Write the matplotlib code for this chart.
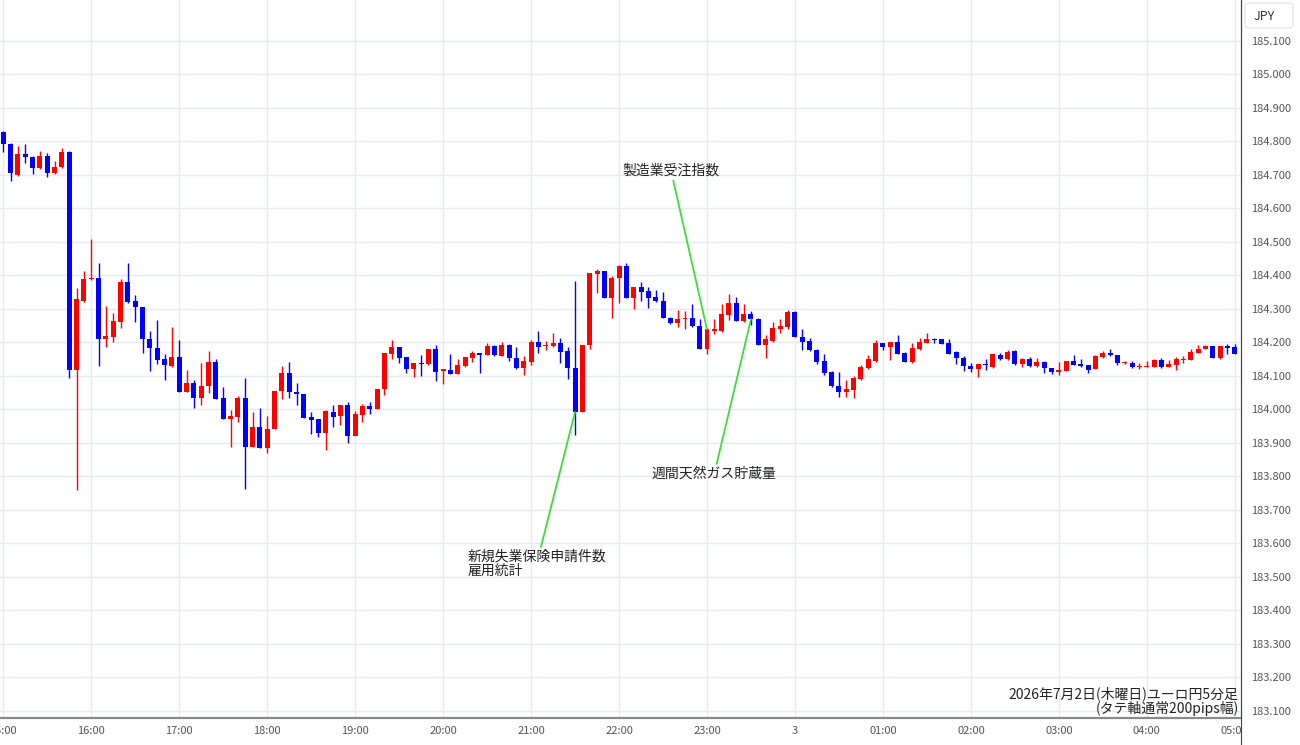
import numpy as np
import matplotlib
matplotlib.use('Agg')
import matplotlib.pyplot as plt
from matplotlib.patches import FancyBboxPatch, Rectangle
from matplotlib.lines import Line2D

plt.rcParams['font.family'] = ['Noto Sans CJK JP', 'DejaVu Sans']

# ユーロ円 5分足 (15:00 - 翌05:00)
opens = [184.827, 184.792, 184.700, 184.763, 184.753, 184.720, 184.757, 184.705, 184.725, 184.768,
         184.118, 184.325, 184.388, 184.391, 184.209, 184.217, 184.262, 184.379, 184.324, 184.307,
         184.209, 184.184, 184.150, 184.131, 184.156, 184.053, 184.078, 184.033, 184.071, 184.141,
         184.033, 183.971, 183.978, 184.033, 183.887, 183.947, 183.884, 183.942, 184.055, 184.108,
         184.053, 184.046, 183.976, 183.971, 183.929, 183.991, 183.979, 184.013, 183.921, 183.984,
         184.011, 184.001, 184.060, 184.165, 184.186, 184.155, 184.120, 184.140, 184.136, 184.180,
         184.116, 184.118, 184.106, 184.130, 184.153, 184.168, 184.163, 184.190, 184.160, 184.193,
         184.153, 184.123, 184.143, 184.200, 184.188, 184.190, 184.198, 184.173, 184.123, 183.992,
         184.191, 184.405, 184.412, 184.332, 184.392, 184.429, 184.332, 184.364, 184.352, 184.335,
         184.325, 184.274, 184.259, 184.269, 184.274, 184.249, 184.181, 184.235, 184.235, 184.282,
         184.317, 184.265, 184.284, 184.270, 184.193, 184.205, 184.239, 184.247, 184.290, 184.215,
         184.204, 184.178, 184.145, 184.111, 184.071, 184.053, 184.058, 184.090, 184.123, 184.146,
         184.197, 184.187, 184.202, 184.168, 184.141, 184.181, 184.199, 184.209, 184.209, 184.197,
         184.170, 184.153, 184.130, 184.121, 184.135, 184.128, 184.163, 184.150, 184.173, 184.135,
         184.150, 184.130, 184.141, 184.125, 184.113, 184.116, 184.145, 184.136, 184.133, 184.121,
         184.156, 184.168, 184.163, 184.138, 184.140, 184.128, 184.128, 184.128, 184.148, 184.128,
         184.133, 184.148, 184.148, 184.168, 184.180, 184.188, 184.153, 184.188, 184.185]
highs = [184.830, 184.795, 184.786, 184.792, 184.755, 184.772, 184.765, 184.742, 184.780, 184.772,
         184.362, 184.414, 184.508, 184.436, 184.309, 184.287, 184.389, 184.436, 184.342, 184.307,
         184.234, 184.267, 184.164, 184.247, 184.207, 184.118, 184.088, 184.138, 184.174, 184.150,
         184.068, 183.998, 184.040, 184.093, 183.993, 184.003, 183.979, 184.055, 184.130, 184.143,
         184.078, 184.046, 183.993, 183.971, 183.999, 184.013, 184.013, 184.021, 183.996, 184.016,
         184.023, 184.060, 184.168, 184.208, 184.186, 184.155, 184.140, 184.163, 184.180, 184.193,
         184.120, 184.166, 184.150, 184.155, 184.175, 184.168, 184.198, 184.193, 184.200, 184.196,
         184.186, 184.160, 184.208, 184.234, 184.205, 184.228, 184.213, 184.186, 184.382, 184.193,
         184.407, 184.419, 184.412, 184.397, 184.431, 184.436, 184.364, 184.379, 184.365, 184.357,
         184.349, 184.277, 184.297, 184.295, 184.314, 184.269, 184.242, 184.269, 184.314, 184.344,
         184.337, 184.314, 184.295, 184.272, 184.222, 184.262, 184.269, 184.297, 184.294, 184.239,
         184.212, 184.180, 184.165, 184.115, 184.113, 184.088, 184.100, 184.133, 184.163, 184.207,
         184.197, 184.202, 184.222, 184.170, 184.197, 184.212, 184.227, 184.214, 184.209, 184.209,
         184.175, 184.158, 184.138, 184.135, 184.150, 184.165, 184.168, 184.178, 184.178, 184.153,
         184.155, 184.153, 184.145, 184.125, 184.143, 184.145, 184.163, 184.150, 184.133, 184.163,
         184.173, 184.181, 184.163, 184.145, 184.145, 184.138, 184.145, 184.150, 184.153, 184.148,
         184.155, 184.158, 184.180, 184.193, 184.193, 184.188, 184.188, 184.195, 184.195]
lows = [184.767, 184.683, 184.697, 184.735, 184.703, 184.717, 184.693, 184.703, 184.720, 184.093,
        183.760, 184.322, 184.386, 184.130, 184.185, 184.202, 184.242, 184.319, 184.262, 184.169,
        184.116, 184.136, 184.088, 184.128, 184.053, 184.053, 184.003, 184.013, 184.050, 184.031,
        183.971, 183.887, 183.963, 183.761, 183.887, 183.884, 183.870, 183.942, 184.031, 184.033,
        184.013, 183.974, 183.927, 183.917, 183.879, 183.949, 183.954, 183.899, 183.921, 183.961,
        183.986, 184.001, 184.043, 184.150, 184.138, 184.108, 184.096, 184.101, 184.133, 184.085,
        184.075, 184.106, 184.106, 184.128, 184.143, 184.108, 184.161, 184.158, 184.158, 184.146,
        184.120, 184.103, 184.133, 184.168, 184.176, 184.186, 184.138, 184.090, 183.924, 183.992,
        184.180, 184.347, 184.332, 184.272, 184.319, 184.332, 184.299, 184.325, 184.304, 184.322,
        184.272, 184.255, 184.247, 184.240, 184.247, 184.181, 184.165, 184.224, 184.232, 184.267,
        184.265, 184.262, 184.252, 184.193, 184.153, 184.200, 184.227, 184.239, 184.215, 184.178,
        184.173, 184.136, 184.103, 184.068, 184.038, 184.038, 184.033, 184.088, 184.120, 184.143,
        184.176, 184.148, 184.165, 184.141, 184.138, 184.178, 184.197, 184.197, 184.195, 184.166,
        184.136, 184.116, 184.113, 184.098, 184.118, 184.123, 184.148, 184.148, 184.133, 184.126,
        184.128, 184.128, 184.110, 184.105, 184.103, 184.116, 184.133, 184.128, 184.110, 184.121,
        184.153, 184.158, 184.133, 184.135, 184.123, 184.120, 184.128, 184.128, 184.123, 184.126,
        184.118, 184.140, 184.148, 184.168, 184.180, 184.153, 184.151, 184.166, 184.165]
closes = [184.791, 184.705, 184.763, 184.753, 184.720, 184.757, 184.705, 184.725, 184.768, 184.118,
          184.330, 184.388, 184.390, 184.209, 184.219, 184.264, 184.379, 184.322, 184.305, 184.209,
          184.182, 184.148, 184.133, 184.156, 184.053, 184.078, 184.033, 184.071, 184.141, 184.031,
          183.971, 183.980, 184.033, 183.887, 183.947, 183.884, 183.942, 184.055, 184.108, 184.051,
          184.046, 183.974, 183.969, 183.929, 183.996, 183.977, 184.013, 183.921, 183.986, 184.011,
          184.001, 184.060, 184.168, 184.186, 184.153, 184.120, 184.140, 184.136, 184.180, 184.113,
          184.120, 184.106, 184.133, 184.155, 184.168, 184.163, 184.190, 184.161, 184.193, 184.153,
          184.123, 184.146, 184.200, 184.186, 184.190, 184.198, 184.170, 184.123, 183.992, 184.191,
          184.407, 184.412, 184.332, 184.392, 184.429, 184.332, 184.364, 184.350, 184.334, 184.324,
          184.274, 184.259, 184.269, 184.274, 184.249, 184.181, 184.239, 184.240, 184.284, 184.317,
          184.265, 184.284, 184.269, 184.193, 184.209, 184.242, 184.249, 184.290, 184.215, 184.202,
          184.178, 184.143, 184.108, 184.071, 184.053, 184.061, 184.093, 184.128, 184.150, 184.197,
          184.187, 184.202, 184.165, 184.141, 184.183, 184.200, 184.210, 184.207, 184.195, 184.166,
          184.153, 184.130, 184.120, 184.135, 184.133, 184.165, 184.150, 184.171, 184.136, 184.150,
          184.130, 184.141, 184.123, 184.111, 184.118, 184.145, 184.133, 184.131, 184.118, 184.160,
          184.168, 184.163, 184.138, 184.140, 184.128, 184.130, 184.130, 184.148, 184.128, 184.135,
          184.150, 184.150, 184.170, 184.180, 184.188, 184.153, 184.188, 184.183, 184.165]

hour_labels = ['15:00', '16:00', '17:00', '18:00', '19:00', '20:00', '21:00', '22:00',
               '23:00', '3', '01:00', '02:00', '03:00', '04:00', '05:00']
bars_per_hour = 12

event_names = ['新規失業保険申請件数\n雇用統計', '製造業受注指数', '週間天然ガス貯蔵量']
event_bars = [78, 96, 102]

title_lines = ['2026年7月2日(木曜日)ユーロ円5分足', '(タテ軸通常200pips幅)']

W, H = 1300, 745
fig = plt.figure(figsize=(W / 100, H / 100), dpi=100)
ax_right = 1241 / W
ax_bottom = 1 - 718 / H
ax = fig.add_axes([0, ax_bottom, ax_right, 1 - ax_bottom])

o = np.array(opens)
h = np.array(highs)
l = np.array(lows)
c = np.array(closes)
x = np.arange(len(o))
colors = np.where(c >= o, '#ff0000', '#0000ff')

ax.vlines(x, l, h, colors=colors, lw=1.0, zorder=2)
body = np.maximum(np.abs(c - o), 0.003)
ax.bar(x, body, bottom=np.minimum(o, c), width=0.68, color=colors, linewidth=0, zorder=3)

ax.set_xlim(-0.45, 168.85)
ax.set_ylim(183.079, 185.222)

ax.set_xticks(np.arange(len(hour_labels)) * bars_per_hour)
ax.set_xticklabels(hour_labels)
yt = np.round(np.arange(183.1, 185.15, 0.1), 1)
ax.set_yticks(yt)
ax.set_yticklabels([f'{v:.3f}' for v in yt])
ax.yaxis.tick_right()
ax.tick_params(axis='y', length=0, pad=7, labelsize=8, labelcolor='#555555')
ax.tick_params(axis='x', length=0, pad=6, labelsize=8, labelcolor='#555555')

ax.grid(True, color='#e3eaf2', lw=1)
ax.set_axisbelow(True)
for s in ['top', 'left']:
    ax.spines[s].set_visible(False)
ax.spines['right'].set_color('#444444')
ax.spines['right'].set_linewidth(0.8)
ax.spines['bottom'].set_color('#8a8a8a')
ax.spines['bottom'].set_linewidth(1.6)

# イベント注記
green = '#3ddc3d'
text_pos = [(63.3, 183.539, 'left'), (91.1, 184.712, 'center'), (97.0, 183.808, 'center')]
for name, bi, (tx, ty, ha) in zip(event_names, event_bars, text_pos):
    ax.annotate(name, xy=(bi, c[bi]), xytext=(tx, ty), ha=ha, va='center',
                fontsize=10, color='#222222', linespacing=1.0,
                arrowprops=dict(arrowstyle='-', color=green, lw=1.3, shrinkA=0, shrinkB=0),
                zorder=5)

ax.text(0.998, 1 - 694 / 718, title_lines[0], transform=ax.transAxes,
        ha='right', va='center', fontsize=10, color='#222222')
ax.text(0.998, 1 - 708 / 718, title_lines[1], transform=ax.transAxes,
        ha='right', va='center', fontsize=10, color='#222222')

# 右端の縦線と時刻ラベルの切れ
fig.add_artist(Rectangle((ax_right + 0.0008, 0), 0.06, ax_bottom - 0.001,
                         transform=fig.transFigure, color='white', zorder=10))
fig.add_artist(Line2D([ax_right, ax_right], [0, 1], transform=fig.transFigure,
                      color='#444444', lw=0.8, zorder=11))

fig.add_artist(FancyBboxPatch((1245 / W, 1 - 28 / H), 48 / W, 25 / H,
                              boxstyle='round,pad=0,rounding_size=0.004',
                              transform=fig.transFigure, fc='white', ec='#e2e2e2', lw=0.8, zorder=12))
fig.text(1264 / W, 1 - 16 / H, 'JPY', ha='center', va='center', fontsize=9,
         color='#333333', zorder=13)

fig.savefig('out.png', dpi=100, facecolor='white')
